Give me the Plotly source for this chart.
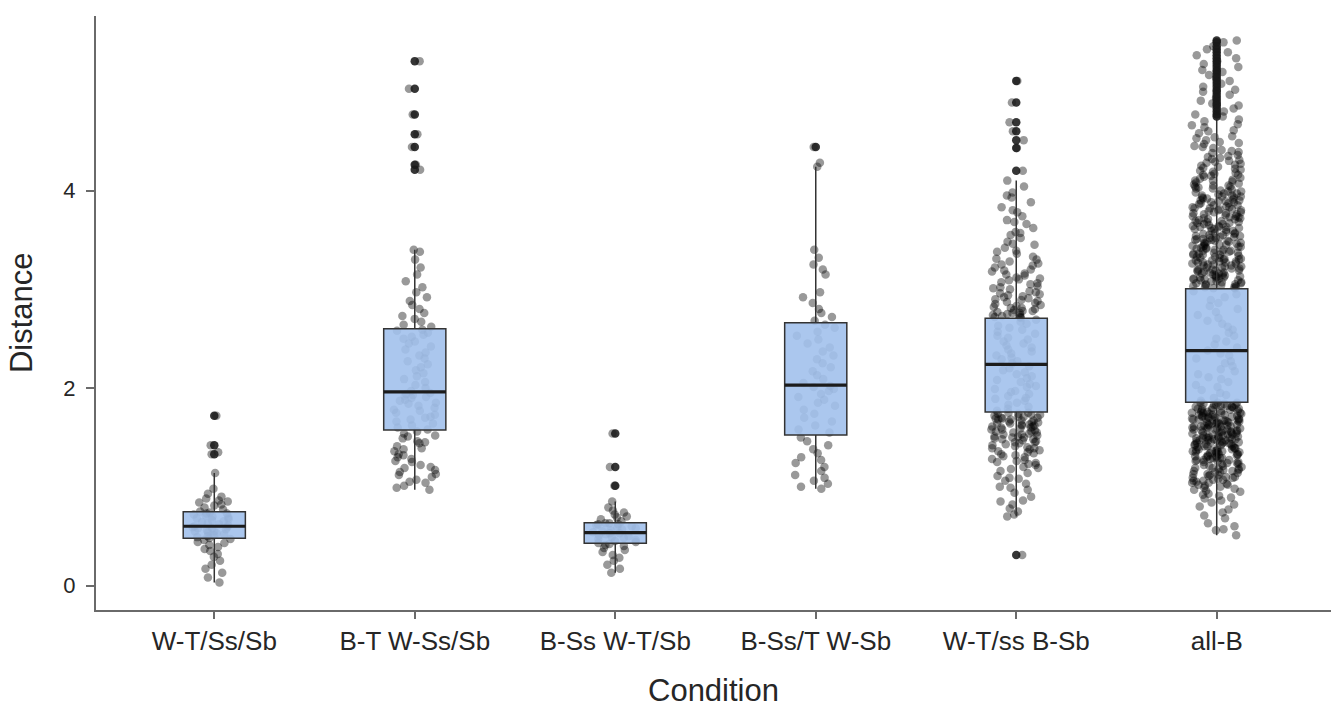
import plotly.graph_objects as go

# ---------------- data ----------------
CATEGORIES = ["W-T/Ss/Sb", "B-T W-Ss/Sb", "B-Ss W-T/Sb", "B-Ss/T W-Sb", "W-T/ss B-Sb", "all-B"]

Q1 = [0.478, 1.575, 0.427, 1.524, 1.758, 1.856]
MEDIAN = [0.600, 1.960, 0.535, 2.030, 2.239, 2.379]
Q3 = [0.747, 2.600, 0.636, 2.660, 2.707, 3.006]
LOWER_WHISKER = [0.03, 0.97, 0.13, 0.98, 0.70, 0.51]
UPPER_WHISKER = [1.14, 3.40, 0.85, 4.24, 4.10, 4.72]

OUTLIERS_1 = [1.72, 1.42, 1.33]
OUTLIERS_2 = [5.31, 5.03, 4.77, 4.57, 4.44, 4.26, 4.21]
OUTLIERS_3 = [1.54, 1.20, 1.01]
OUTLIERS_4 = [4.44]
OUTLIERS_5 = [5.11, 4.89, 4.69, 4.60, 4.51, 4.43, 4.20, 0.31]
OUTLIERS_6 = [5.52, 5.50, 5.46, 5.43, 5.40, 5.37, 5.34, 5.31, 5.28, 5.25, 5.22, 5.20, 5.17,
              5.14, 5.11, 5.08, 5.05, 5.02, 5.00, 4.97, 4.94, 4.91, 4.88, 4.86, 4.83, 4.80,
              4.77, 4.75]

POINTS_1 = ("0.03 0.08 0.13 0.17 0.21 0.25 0.29 0.32 0.35 0.37 0.39 0.41 0.43 0.44 0.46 0.47 "
            "0.48 0.49 0.50 0.51 0.52 0.53 0.54 0.55 0.55 0.56 0.57 0.58 0.58 0.59 0.59 0.60 "
            "0.61 0.62 0.63 0.64 0.65 0.66 0.67 0.68 0.69 0.70 0.71 0.72 0.73 0.73 0.74 0.75 "
            "0.77 0.79 0.81 0.82 0.84 0.85 0.86 0.88 0.90 0.93 0.98 1.14 1.33 1.35 1.42 1.72")

POINTS_2 = ("0.97 0.99 1.01 1.04 1.05 1.07 1.10 1.12 1.13 1.15 1.17 1.19 1.20 1.22 1.25 1.26 "
            "1.28 1.30 1.32 1.33 1.36 1.38 1.39 1.41 1.44 1.45 1.46 1.49 1.51 1.52 1.54 1.56 "
            "1.58 1.60 1.62 1.64 1.66 1.68 1.70 1.71 1.73 1.75 1.77 1.78 1.80 1.82 1.84 1.85 "
            "1.87 1.88 1.90 1.91 1.92 1.93 1.94 1.95 1.97 2.00 2.03 2.06 2.09 2.12 2.15 2.18 "
            "2.21 2.24 2.27 2.30 2.33 2.36 2.39 2.42 2.45 2.47 2.50 2.52 2.54 2.56 2.58 2.59 "
            "2.62 2.64 2.67 2.70 2.73 2.76 2.80 2.84 2.88 2.92 2.97 3.02 3.08 3.15 3.22 3.30 "
            "3.38 3.40 4.21 4.26 4.44 4.57 4.77 5.03 5.31")

POINTS_3 = ("0.13 0.17 0.21 0.25 0.28 0.31 0.34 0.36 0.38 0.40 0.41 0.42 0.43 0.44 0.45 0.46 "
            "0.47 0.48 0.49 0.50 0.51 0.52 0.53 0.53 0.54 0.55 0.56 0.57 0.58 0.59 0.60 0.61 "
            "0.62 0.62 0.63 0.63 0.65 0.67 0.69 0.70 0.72 0.74 0.76 0.79 0.85 1.01 1.20 1.54")

POINTS_4 = ("0.98 1.00 1.03 1.06 1.09 1.12 1.16 1.20 1.24 1.27 1.30 1.34 1.38 1.42 1.46 1.50 "
            "1.55 1.58 1.62 1.66 1.70 1.74 1.78 1.82 1.85 1.88 1.91 1.94 1.97 1.99 2.01 2.02 "
            "2.05 2.09 2.13 2.17 2.21 2.25 2.29 2.33 2.37 2.41 2.45 2.49 2.53 2.57 2.61 2.64 "
            "2.68 2.72 2.76 2.80 2.86 2.92 2.97 3.15 3.20 3.25 3.32 3.40 4.24 4.28 4.44")

POINTS_5 = ("0.31 0.70 0.72 0.75 0.78 0.82 0.85 0.86 0.90 0.94 0.97 0.99 1.00 1.03 1.06 1.08 "
            "1.09 1.11 1.14 1.16 1.18 1.19 1.20 1.22 1.23 1.24 1.25 1.26 1.27 1.28 1.30 1.31 "
            "1.32 1.33 1.34 1.35 1.36 1.37 1.38 1.39 1.39 1.40 1.41 1.42 1.43 1.44 1.45 1.45 "
            "1.46 1.47 1.48 1.48 1.49 1.50 1.50 1.51 1.51 1.52 1.53 1.53 1.54 1.55 1.55 1.56 "
            "1.56 1.57 1.58 1.58 1.59 1.60 1.60 1.61 1.61 1.62 1.62 1.63 1.63 1.64 1.64 1.65 "
            "1.65 1.66 1.67 1.67 1.68 1.68 1.69 1.69 1.70 1.70 1.71 1.71 1.72 1.73 1.73 1.74 "
            "1.74 1.75 1.75 "
            "1.77 1.79 1.81 1.83 1.85 1.87 1.89 1.90 1.92 1.94 1.96 1.97 1.99 2.01 2.02 2.04 "
            "2.06 2.08 2.10 2.12 2.14 2.16 2.18 2.20 2.22 2.25 2.27 2.29 2.31 2.33 2.35 2.37 "
            "2.39 2.41 2.43 2.45 2.47 2.49 2.51 2.53 2.55 2.57 2.59 2.61 2.63 2.65 2.67 2.69 "
            "2.71 2.72 2.72 2.73 2.74 2.74 2.75 2.76 2.76 2.77 2.78 2.78 2.79 2.80 2.81 2.81 "
            "2.82 2.83 2.84 2.85 2.86 2.87 2.88 2.89 2.90 2.91 2.92 2.93 2.94 2.95 2.96 2.97 "
            "2.98 3.00 3.01 3.02 3.03 3.05 3.06 3.07 3.09 3.10 3.11 3.12 3.14 3.15 3.16 3.18 "
            "3.19 3.20 3.22 3.24 3.25 3.26 3.28 3.30 3.31 3.33 3.36 3.38 3.39 3.42 3.45 3.46 "
            "3.48 3.52 3.55 3.57 3.58 3.62 3.66 3.68 3.70 3.74 3.78 3.80 3.83 3.88 3.93 3.95 "
            "3.98 4.04 4.10 "
            "4.20 4.43 4.51 4.60 4.69 4.89 5.11")

POINTS_6 = ("0.51 0.56 0.57 0.60 0.63 0.68 0.71 0.74 0.77 0.80 0.82 0.84 0.86 0.88 0.89 0.91 "
            "0.92 0.93 0.95 0.96 0.97 0.98 0.99 1.00 1.01 1.02 1.02 1.03 1.04 1.04 1.05 1.06 "
            "1.06 1.07 1.07 1.08 1.09 1.09 1.10 1.10 1.11 1.12 1.12 1.13 1.13 1.14 1.15 1.15 "
            "1.16 1.16 1.17 1.17 1.18 1.18 1.19 1.19 1.20 1.21 1.21 1.22 1.23 1.23 1.24 1.24 "
            "1.25 1.25 1.26 1.26 1.27 1.27 1.27 1.28 1.29 1.29 1.29 1.30 1.30 1.31 1.31 1.31 "
            "1.32 1.32 1.33 1.33 1.33 1.34 1.34 1.35 1.35 1.35 1.36 1.36 1.36 1.37 1.37 1.37 "
            "1.38 1.38 1.39 1.39 1.39 1.40 1.40 1.41 1.41 1.41 1.42 1.42 1.43 1.43 1.43 1.44 "
            "1.44 1.44 1.45 1.45 1.45 1.46 1.46 1.47 1.47 1.47 1.47 1.48 1.48 1.48 1.49 1.49 "
            "1.49 1.50 1.50 1.50 1.51 1.51 1.51 1.52 1.52 1.53 1.53 1.53 1.54 1.54 1.55 1.55 "
            "1.55 1.55 1.56 1.56 1.57 1.57 1.57 1.58 1.58 1.58 1.59 1.59 1.59 1.60 1.60 1.61 "
            "1.61 1.61 1.61 1.62 1.62 1.62 1.63 1.63 1.63 1.64 1.64 1.64 1.65 1.65 1.65 1.66 "
            "1.66 1.67 1.67 1.67 1.67 1.68 1.68 1.68 1.69 1.69 1.69 1.70 1.70 1.71 1.71 1.71 "
            "1.71 1.72 1.72 1.73 1.73 1.73 1.74 1.74 1.75 1.75 1.75 1.75 1.76 1.76 1.77 1.77 "
            "1.77 1.78 1.78 1.79 1.79 1.79 1.80 1.80 1.81 1.81 1.81 1.82 1.82 1.83 1.83 1.83 "
            "1.84 1.84 1.85 1.85 1.85 "
            "1.87 1.90 1.93 1.95 1.98 2.01 2.03 2.06 2.09 2.11 2.14 2.17 2.19 2.22 2.25 2.27 "
            "2.30 2.33 2.35 2.38 2.41 2.44 2.47 2.50 2.53 2.56 2.59 2.62 2.65 2.68 2.71 2.74 "
            "2.77 2.80 2.83 2.86 2.89 2.92 2.95 2.98 "
            "3.01 3.01 3.02 3.02 3.03 3.03 3.04 3.04 3.05 3.05 3.06 3.06 3.07 3.07 3.08 3.08 "
            "3.09 3.09 3.10 3.10 3.11 3.11 3.12 3.12 3.12 3.13 3.13 3.14 3.14 3.15 3.15 3.16 "
            "3.16 3.17 3.17 3.18 3.18 3.19 3.19 3.19 3.20 3.20 3.21 3.21 3.22 3.22 3.23 3.23 "
            "3.24 3.24 3.25 3.25 3.26 3.26 3.27 3.27 3.27 3.28 3.28 3.29 3.29 3.30 3.30 3.31 "
            "3.31 3.32 3.32 3.33 3.33 3.34 3.35 3.35 3.35 3.36 3.36 3.37 3.37 3.38 3.38 3.39 "
            "3.39 3.40 3.40 3.41 3.41 3.42 3.42 3.43 3.43 3.43 3.44 3.44 3.45 3.45 3.46 3.46 "
            "3.47 3.47 3.48 3.48 3.49 3.49 3.50 3.50 3.51 3.51 3.52 3.52 3.53 3.53 3.54 3.54 "
            "3.55 3.55 3.56 3.56 3.57 3.57 3.58 3.59 3.59 3.60 3.61 3.61 3.62 3.62 3.63 3.63 "
            "3.63 3.64 3.64 3.65 3.66 3.66 3.67 3.67 3.68 3.68 3.69 3.69 3.70 3.71 3.71 3.72 "
            "3.72 3.73 3.73 3.74 3.74 3.75 3.76 3.76 3.77 3.77 3.78 3.78 3.79 3.80 3.80 3.81 "
            "3.81 3.82 3.82 3.83 3.83 3.84 3.85 3.85 3.86 3.87 3.87 3.88 3.88 3.89 3.89 3.90 "
            "3.90 3.91 3.92 3.92 3.93 3.93 3.94 3.94 3.95 3.95 3.96 3.97 3.97 3.98 3.99 3.99 "
            "4.00 4.01 4.02 4.02 4.03 4.04 4.04 4.05 4.05 4.06 4.07 4.08 4.09 4.10 4.10 4.11 "
            "4.12 4.13 4.14 4.15 4.16 4.16 4.17 4.18 4.19 4.20 4.21 4.22 4.23 4.24 4.25 4.26 "
            "4.27 4.28 4.29 4.30 4.31 4.32 4.33 4.34 4.35 4.36 4.38 4.39 4.40 4.41 4.43 4.44 "
            "4.45 4.47 4.48 4.49 4.51 4.53 4.54 4.55 4.58 4.60 4.61 4.64 4.66 4.67 4.70 4.72 "
            "4.75 4.77 4.80 4.83 4.86 4.88 4.91 4.94 4.97 5.00 5.02 5.05 5.08 5.11 5.14 5.17 "
            "5.20 5.22 5.25 5.28 5.31 5.34 5.37 5.40 5.43 5.46 5.50 5.52")


def parse(s):
    return [float(t) for t in s.split()]


POINT_GROUPS = [POINTS_1, POINTS_2, POINTS_3, POINTS_4, POINTS_5, POINTS_6]
OUTLIER_GROUPS = [OUTLIERS_1, OUTLIERS_2, OUTLIERS_3, OUTLIERS_4, OUTLIERS_5, OUTLIERS_6]

pts_x, pts_y = [], []
for cat, s in zip(CATEGORIES, POINT_GROUPS):
    vals = parse(s)
    pts_x += [cat] * len(vals)
    pts_y += vals

out_x, out_y = [], []
for cat, vals in zip(CATEGORIES, OUTLIER_GROUPS):
    out_x += [cat] * len(vals)
    out_y += vals

FONT = "Liberation Sans, Arial, Helvetica, sans-serif"
TEXT = "#262626"
AXIS = "#6a6a6a"

fig = go.Figure()

# jittered raw observations (box itself invisible)
fig.add_trace(go.Box(
    x=pts_x, y=pts_y, boxpoints="all", jitter=0.8, pointpos=0, width=0.31,
    fillcolor="rgba(0,0,0,0)", line=dict(width=0, color="rgba(0,0,0,0)"),
    whiskerwidth=0,
    marker=dict(color="rgba(0,0,0,0.40)", size=8.5, line=dict(width=0)),
    hoverinfo="skip",
))

# box with summary statistics
fig.add_trace(go.Box(
    x=CATEGORIES, q1=Q1, median=MEDIAN, q3=Q3,
    lowerfence=LOWER_WHISKER, upperfence=UPPER_WHISKER,
    boxpoints=False, width=0.31, whiskerwidth=0,
    fillcolor="rgba(162,193,236,0.90)", line=dict(color="#333333", width=1.5),
    hoverinfo="skip",
))

# thick median line
fig.add_trace(go.Box(
    x=CATEGORIES, q1=MEDIAN, median=MEDIAN, q3=MEDIAN,
    lowerfence=MEDIAN, upperfence=MEDIAN,
    boxpoints=False, width=0.31, whiskerwidth=0,
    fillcolor="rgba(0,0,0,0)", line=dict(color="#1c1c1c", width=3.2),
    hoverinfo="skip",
))

# box-plot outliers drawn at the centre
fig.add_trace(go.Scatter(
    x=out_x, y=out_y, mode="markers",
    marker=dict(color="rgba(25,25,25,0.88)", size=8.5, line=dict(width=0)),
    hoverinfo="skip",
))

fig.update_layout(
    width=1334, height=709, autosize=False,
    margin=dict(l=96, r=3, t=16, b=99),
    paper_bgcolor="white", plot_bgcolor="white",
    showlegend=False, boxmode="overlay",
    font=dict(family=FONT, color=TEXT),
    xaxis=dict(
        type="category", categoryorder="array", categoryarray=CATEGORIES,
        range=[-0.59, 5.57], showgrid=False, zeroline=False,
        showline=True, linecolor=AXIS, linewidth=2,
        ticks="outside", ticklen=7, tickwidth=2, tickcolor=AXIS,
        tickfont=dict(size=26, color=TEXT, family=FONT),
    ),
    yaxis=dict(
        range=[-0.248, 5.767], tickvals=[0, 2, 4], ticktext=["0", "2", "4"],
        showgrid=False, zeroline=False,
        showline=True, linecolor=AXIS, linewidth=2,
        ticks="outside", ticklen=8, tickwidth=2, tickcolor=AXIS,
        ticklabelstandoff=6,
        tickfont=dict(size=22, color=TEXT, family=FONT),
    ),
    annotations=[
        dict(text="Distance", xref="paper", yref="paper", x=-0.0607, y=0.5,
             textangle=-90, showarrow=False, xanchor="center", yanchor="middle",
             font=dict(size=31, color=TEXT, family=FONT)),
        dict(text="Condition", xref="paper", yref="paper", x=0.5, y=-0.136,
             showarrow=False, xanchor="center", yanchor="middle",
             font=dict(size=31, color=TEXT, family=FONT)),
    ],
)

fig.write_html("out.html")
